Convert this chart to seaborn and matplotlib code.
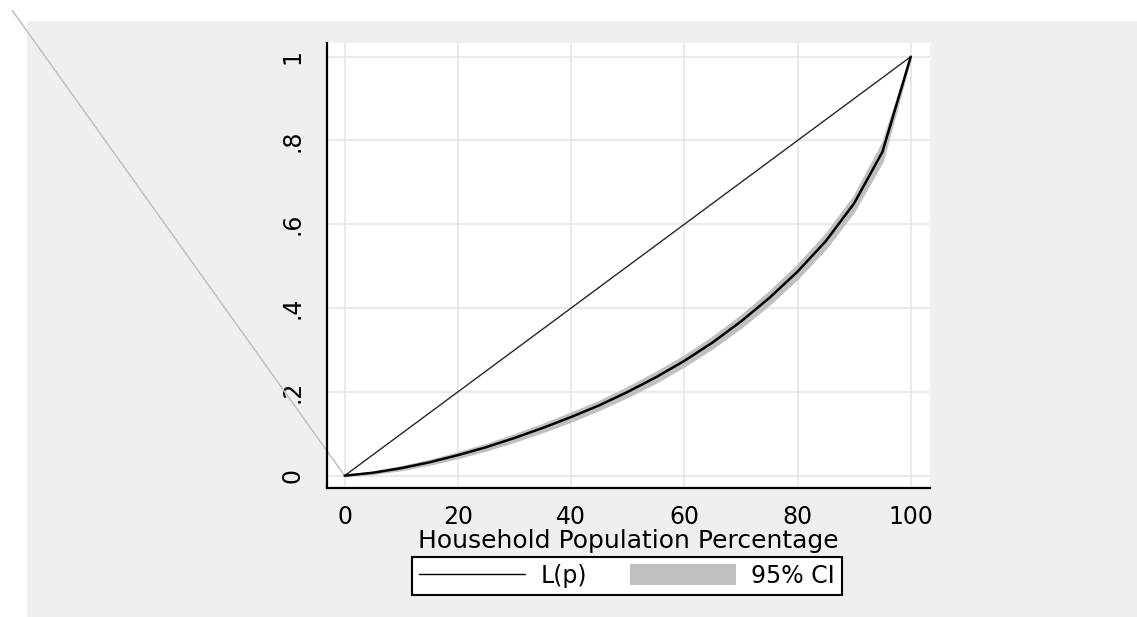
import matplotlib
matplotlib.use("Agg")
import matplotlib.pyplot as plt
from matplotlib.patches import Rectangle, Patch
from matplotlib.lines import Line2D
import seaborn as sns
import pandas as pd

# ---- data ----
pct = [0, 5, 10, 15, 20, 25, 30, 35, 40, 45, 50, 55, 60, 65, 70, 75, 80, 85, 90, 95, 100]
lorenz = [0, .007, .018, .032, .049, .068, .090, .114, .140, .168, .200, .235, .274,
          .318, .368, .424, .487, .560, .650, .773, 1.0]
ci_halfwidth = [0, .002, .004, .005, .006, .007, .008, .009, .010, .010, .011, .012, .012,
                .013, .014, .015, .016, .017, .018, .022, 0]
equality_x = [0, 100]
equality_y = [0, 1]
stray_x = [0, -58.7]
stray_y = [0, 1.11]
xticks = [0, 20, 40, 60, 80, 100]
yticks = [0, .2, .4, .6, .8, 1]
ytick_labels = ["0", ".2", ".4", ".6", ".8", "1"]
legend_labels = ["L(p)", "95% CI"]
xlabel = "Household Population Percentage"

ci_low = [l - h for l, h in zip(lorenz, ci_halfwidth)]
ci_high = [l + h for l, h in zip(lorenz, ci_halfwidth)]
df = pd.DataFrame({"pct": pct, "lorenz": lorenz, "lo": ci_low, "hi": ci_high})

sns.set_theme(style="white")
plt.rcParams['font.family'] = ['DejaVu Sans']

W, H = 1137, 617
fig = plt.figure(figsize=(W / 100, H / 100), dpi=100)
fig.patch.set_facecolor("white")
bg = Rectangle((27 / W, 0), 1 - 27 / W, (H - 21) / H,
               transform=fig.transFigure, facecolor="#efefef",
               edgecolor="none", zorder=-10)
fig.patches.append(bg)

left, right, top, bottom = 327, 930, 43, 488
ax = fig.add_axes([left / W, (H - bottom) / H, (right - left) / W, (bottom - top) / H])
ax.set_zorder(1)
ax.set_facecolor("white")

ax.fill_between(df["pct"], df["lo"], df["hi"], color="#c0c0c0", linewidth=1.4,
                edgecolor="#c0c0c0", zorder=2)
sns.lineplot(x=stray_x, y=stray_y, ax=ax, color="#c0c0c0", linewidth=1.1,
             clip_on=False, zorder=1)
sns.lineplot(x=equality_x, y=equality_y, ax=ax, color="#262626", linewidth=1.0, zorder=3)
sns.lineplot(data=df, x="pct", y="lorenz", ax=ax, color="black", linewidth=1.8, zorder=4)

ax.set_xlim(-3.12, 103.4)
ax.set_ylim(-0.0294, 1.0327)
ax.set_xticks(xticks)
ax.set_yticks(yticks)
ax.set_yticklabels(ytick_labels, rotation=90, va="center")
ax.grid(True, color="#e6e6e6", linewidth=1.2)
ax.set_axisbelow(True)
for s in ["top", "right"]:
    ax.spines[s].set_visible(False)
for s in ["left", "bottom"]:
    ax.spines[s].set_color("black")
    ax.spines[s].set_linewidth(1.6)
ax.tick_params(axis="x", direction="out", length=6.5, width=1.0, color="black",
               labelsize=17, pad=6, labelcolor="black")
ax.tick_params(axis="y", direction="out", length=8.5, width=1.0, color="black",
               labelsize=17, pad=8, labelcolor="black")
ax.set_xlabel(xlabel, fontsize=18, labelpad=0, color="black")
ax.set_ylabel("")

handles = [Line2D([], [], color="black", linewidth=1.0),
           Patch(facecolor="#c0c0c0", edgecolor="none")]
leg = fig.legend(handles, legend_labels, loc="center", ncol=2,
                 bbox_to_anchor=(627 / W, (H - 576) / H), fontsize=17,
                 frameon=True, fancybox=False, framealpha=1, edgecolor="black",
                 handlelength=4.5, handleheight=1.0, handletextpad=0.65,
                 columnspacing=1.8, borderpad=0.3)
leg.get_frame().set_linewidth(1.5)
for t in leg.get_texts():
    t.set_color("black")

fig.savefig("out.png", dpi=100)
